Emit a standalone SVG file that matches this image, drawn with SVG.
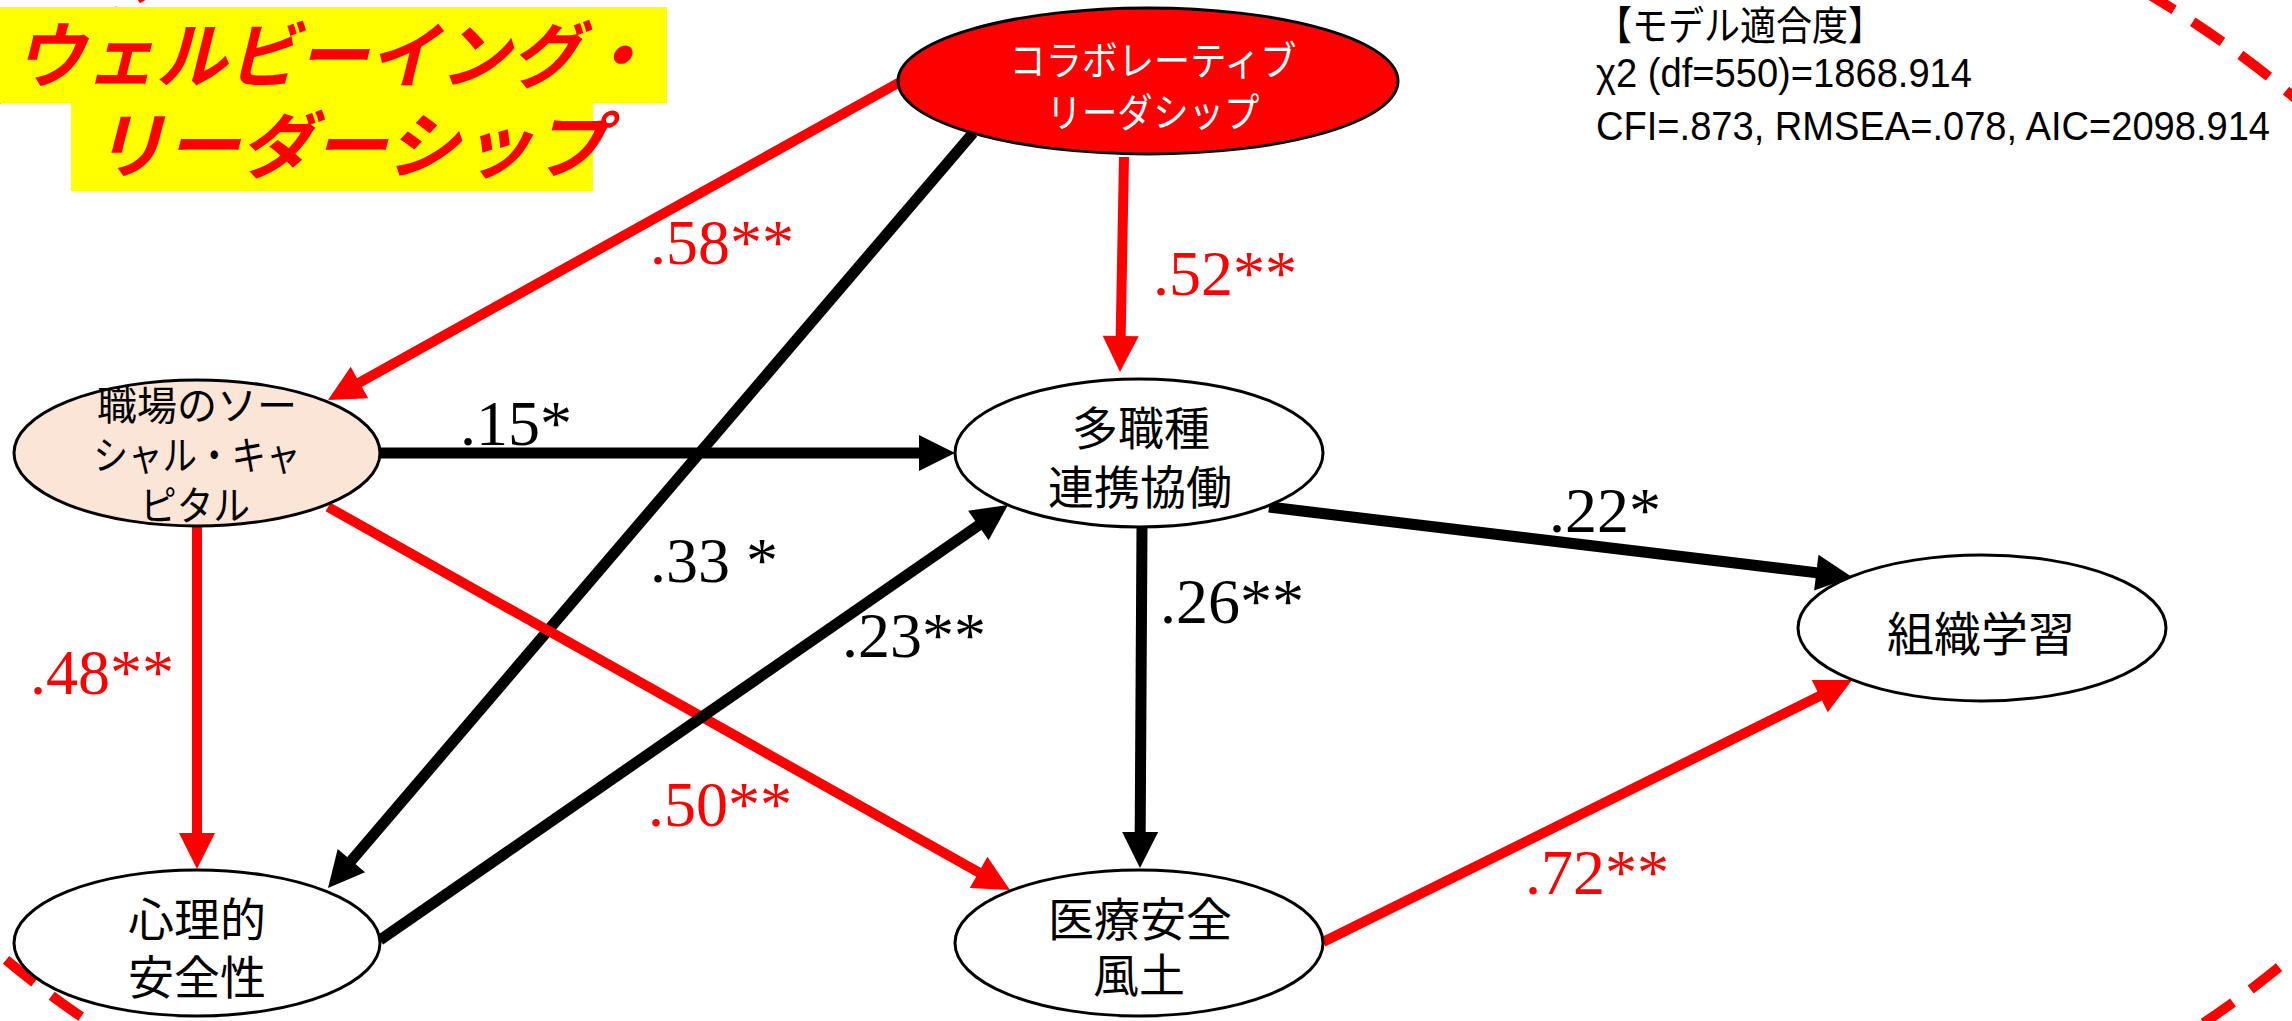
<svg xmlns="http://www.w3.org/2000/svg" width="2292" height="1021" viewBox="0 0 2292 1021">
<style>
.jp{font-family:"Noto Sans CJK JP","Noto Sans",sans-serif;}
.node{stroke:#000;stroke-width:3;}
.ntxt{font-family:"Noto Sans CJK JP","Noto Sans",sans-serif;font-size:46px;fill:#000;text-anchor:middle;}
.lbl{font-family:"Liberation Serif","Times New Roman",serif;font-size:64px;}
.red{fill:#FF0000;}
.blk{fill:#000;}
.cr{stroke:#FF0000;stroke-width:10;fill:none;marker-end:url(#arR);}
.cb{stroke:#000;stroke-width:11;fill:none;marker-end:url(#arB);}
.fit{font-family:"Liberation Sans","Noto Sans CJK JP",sans-serif;font-size:40px;fill:#000;}
</style>
<defs>
<marker id="arR" markerUnits="userSpaceOnUse" markerWidth="36" markerHeight="36" refX="14" refY="18" orient="auto" overflow="visible">
<path d="M0,0 L36,18 L0,36 z" fill="#FF0000"/>
</marker>
<marker id="arB" markerUnits="userSpaceOnUse" markerWidth="36" markerHeight="36" refX="14" refY="18" orient="auto" overflow="visible">
<path d="M0,0 L36,18 L0,36 z" fill="#000"/>
</marker>
</defs>
<rect width="2292" height="1021" fill="#fff"/>
<ellipse cx="1147" cy="526" rx="1377" ry="775" fill="none" stroke="#FF0000" stroke-width="10" stroke-dasharray="36 22"/>
<g id="title">
<rect x="0" y="7" width="667" height="96" fill="#FFFF00"/>
<rect x="71" y="103" width="522" height="88" fill="#FFFF00"/>
<text class="jp" x="14" y="82" font-size="72" font-weight="bold" font-style="italic" fill="#FF0000" textLength="638" lengthAdjust="spacingAndGlyphs">ウェルビーイング・</text>
<text class="jp" x="92" y="172" font-size="72" font-weight="bold" font-style="italic" fill="#FF0000" textLength="515" lengthAdjust="spacingAndGlyphs">リーダーシップ</text>
</g>
<g id="model-fit">
<text class="fit" x="1596" y="40" font-family="Noto Sans CJK JP" font-size="38" textLength="288" lengthAdjust="spacingAndGlyphs">【モデル適合度】</text>
<text class="fit" x="1596" y="87" textLength="376" lengthAdjust="spacingAndGlyphs">χ2 (df=550)=1868.914</text>
<text class="fit" x="1596" y="140" textLength="674" lengthAdjust="spacingAndGlyphs">CFI=.873, RMSEA=.078, AIC=2098.914</text>
</g>
<g id="connectors">
<path class="cr" d="M900,82 L347.2,389.3"/>
<path class="cb" d="M973,133 L342.3,871.3"/>
<path class="cr" d="M1124,157 L1120.4,350"/>
<path class="cb" d="M380,453 L933,453"/>
<path class="cr" d="M328,507 L990.8,879.2"/>
<path class="cr" d="M197,527 L197,847"/>
<path class="cb" d="M380,940 L989.9,517.5"/>
<path class="cb" d="M1142,527 L1140.1,846"/>
<path class="cb" d="M1269,507 L1830.2,574.4"/>
<path class="cr" d="M1323,942 L1832.3,689.8"/>
</g>
<g id="node-collab">
<ellipse class="node" cx="1148" cy="81" rx="250" ry="73" fill="#FF0000"/>
<text class="ntxt" x="1153" y="75" style="font-size:40px;fill:#fff" textLength="287" lengthAdjust="spacingAndGlyphs">コラボレーティブ</text>
<text class="ntxt" x="1153" y="127" style="font-size:40px;fill:#fff" textLength="213" lengthAdjust="spacingAndGlyphs">リーダシップ</text>
</g>
<g id="node-social">
<ellipse class="node" cx="197" cy="453" rx="183" ry="73" fill="#FBE5D6"/>
<text class="ntxt" x="197" y="420" style="font-size:40px" textLength="200" lengthAdjust="spacingAndGlyphs">職場のソー</text>
<text class="ntxt" x="197" y="470" style="font-size:40px" textLength="207" lengthAdjust="spacingAndGlyphs">シャル・キャ</text>
<text class="ntxt" x="195" y="520" style="font-size:40px" textLength="110" lengthAdjust="spacingAndGlyphs">ピタル</text>
</g>
<g id="node-multi">
<ellipse class="node" cx="1139" cy="453" rx="184" ry="74" fill="#fff"/>
<text class="ntxt" x="1141" y="445">多職種</text>
<text class="ntxt" x="1140" y="504">連携協働</text>
</g>
<g id="node-org">
<ellipse class="node" cx="1982" cy="628" rx="184" ry="73" fill="#fff"/>
<text class="ntxt" x="1981" y="651" style="font-size:47px">組織学習</text>
</g>
<g id="node-psych">
<ellipse class="node" cx="197" cy="943" rx="183" ry="73" fill="#fff"/>
<text class="ntxt" x="197" y="936">心理的</text>
<text class="ntxt" x="197" y="994">安全性</text>
</g>
<g id="node-safety">
<ellipse class="node" cx="1139" cy="943" rx="184" ry="73" fill="#fff"/>
<text class="ntxt" x="1140" y="936">医療安全</text>
<text class="ntxt" x="1139" y="992">風土</text>
</g>
<g id="labels">
<text class="lbl red" x="650" y="264">.58**</text>
<text class="lbl red" x="1153" y="295">.52**</text>
<text class="lbl blk" x="460" y="445">.15*</text>
<text class="lbl blk" x="650" y="582">.33 *</text>
<text class="lbl blk" x="842" y="657">.23**</text>
<text class="lbl blk" x="1160" y="623">.26**</text>
<text class="lbl blk" x="1549" y="532">.22*</text>
<text class="lbl red" x="30" y="694">.48**</text>
<text class="lbl red" x="648" y="826">.50**</text>
<text class="lbl red" x="1525" y="894">.72**</text>
</g>
</svg>
